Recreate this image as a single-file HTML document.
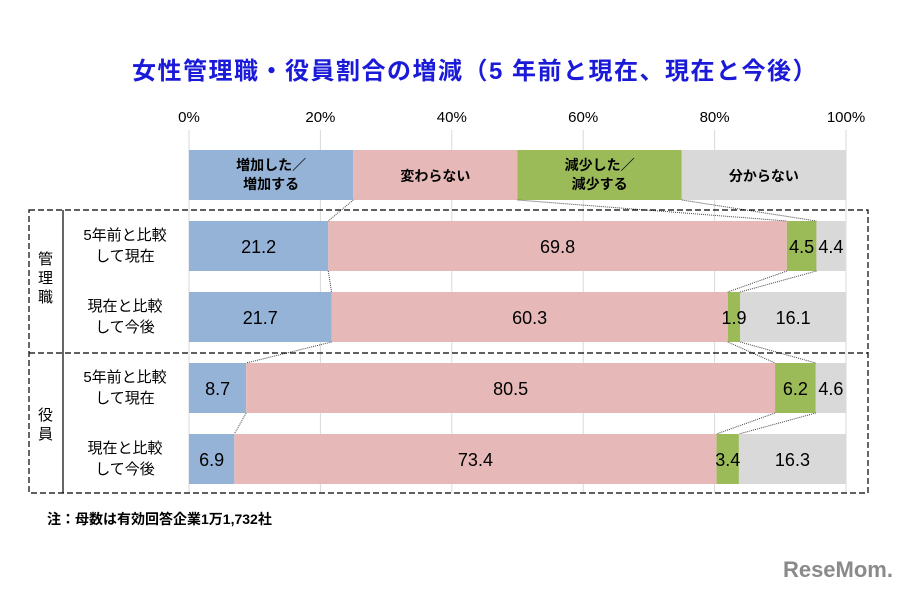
<!DOCTYPE html>
<html><head><meta charset="utf-8"><style>
body{margin:0;background:#fff;}
svg text{font-family:"Liberation Sans","Noto Sans CJK JP",sans-serif;}
</style></head><body>
<svg id="c" width="911" height="590" xmlns="http://www.w3.org/2000/svg">
<text x="475" y="79" text-anchor="middle" font-size="24" font-weight="bold" fill="#1a1ad8" letter-spacing="1.5">女性管理職・役員割合の増減（5 年前と現在、現在と今後）</text>
<g id="grid"></g>
<g id="hdr"></g>
<g id="bars"></g>
<g id="conn"></g>
<g fill="none" stroke="#000" stroke-dasharray="6,3" stroke-width="1.2">
<rect x="29" y="210" width="839" height="283"/>
<line x1="29" y1="353" x2="868" y2="353"/>
</g>
<line x1="63" y1="210" x2="63" y2="493" stroke="#000" stroke-width="1.2"/>
<text font-size="15" fill="#000"><tspan x="38" y="264">管</tspan><tspan x="38" y="283">理</tspan><tspan x="38" y="302">職</tspan></text>
<text font-size="15" fill="#000"><tspan x="38" y="420">役</tspan><tspan x="38" y="439">員</tspan></text>
<text x="47" y="524" font-size="14" font-weight="bold" fill="#000">注：母数は有効回答企業1万1,732社</text>
<text x="893" y="577" text-anchor="end" font-size="22" font-weight="bold" fill="#8a8a8a">ReseMom.</text>
</svg>
<script>
const categories=["5年前と比較|して現在","現在と比較|して今後","5年前と比較|して現在","現在と比較|して今後"];
const seriesNames=["増加した／|増加する","変わらない","減少した／|減少する","分からない"];
const increase=[21.2,21.7,8.7,6.9];
const same=[69.8,60.3,80.5,73.4];
const decrease=[4.5,1.9,6.2,3.4];
const unknown=[4.4,16.1,4.6,16.3];
const ticks=[0,20,40,60,80,100];
const colors=["#95b3d7","#e6b9b8","#9bbb59","#d9d9d9"];
const NS="http://www.w3.org/2000/svg";
const x=v=>189+v*6.57;
const rowY=[221,292,363,434], BH=50;
function el(t,a,p){const e=document.createElementNS(NS,t);for(const k in a)e.setAttribute(k,a[k]);p.appendChild(e);return e;}
const grid=document.getElementById('grid');
ticks.forEach(t=>{
 const l=el('line',{x1:x(t),x2:x(t),y1:130,y2:493,stroke:'#d9d9d9'},grid);
 
 
 const tx=el('text',{x:x(t),y:122,'text-anchor':'middle','font-size':15,fill:'#000'},grid);
 tx.textContent=t+'%';
 
 
});
const hdr=document.getElementById('hdr');
seriesNames.forEach((n,i)=>{
 const r=el('rect',{x:x(i*25),y:150,width:x(25)-x(0),height:50,fill:colors[i]},hdr);
 
 
 const parts=n.split('|');
 parts.forEach((p,j)=>{
  const tx=el('text',{x:x(i*25+12.5),y:parts.length>1?170+j*19:181,'text-anchor':'middle','font-size':14,'font-weight':'bold',fill:'#000'},hdr);
  tx.textContent=p;
  
  
 });
});
const bars=document.getElementById('bars');
const series=[increase,same,decrease,unknown];
const cums=[];
categories.forEach((c,r)=>{
 let acc=0;const cb=[];
 series.forEach((s,i)=>{
  const v=s[r];
  const b=el('rect',{x:x(acc),y:rowY[r],width:x(acc+v)-x(acc),height:BH,fill:colors[i]},bars);
  
  
  acc+=v;cb.push(acc);
 });
 acc=0;
 series.forEach((s,i)=>{
  const v=s[r];
  const tx=el('text',{x:x(acc+v/2),y:rowY[r]+32,'text-anchor':'middle','font-size':18,fill:'#000'},bars);
  tx.textContent=v.toFixed(1);
  
  
  acc+=v;
 });
 cums.push(cb);
 c.split('|').forEach((p,j)=>{
  const tx=el('text',{x:125,y:rowY[r]+19+j*21,'text-anchor':'middle','font-size':15,fill:'#000'},bars);
  tx.textContent=p;
  
  
 });
});
const conn=document.getElementById('conn');
function cl(a,b,y1,y2){
 const l=el('line',{x1:x(a),y1:y1,x2:x(b),y2:y2,stroke:'#444','stroke-dasharray':'1,1'},conn);
 
 
}
[25,50,75].forEach((h,i)=>cl(h,cums[0][i],200,rowY[0]));
for(let r=0;r<3;r++)[0,1,2].forEach(i=>cl(cums[r][i],cums[r+1][i],rowY[r]+BH,rowY[r+1]));
</script>
</body></html>
